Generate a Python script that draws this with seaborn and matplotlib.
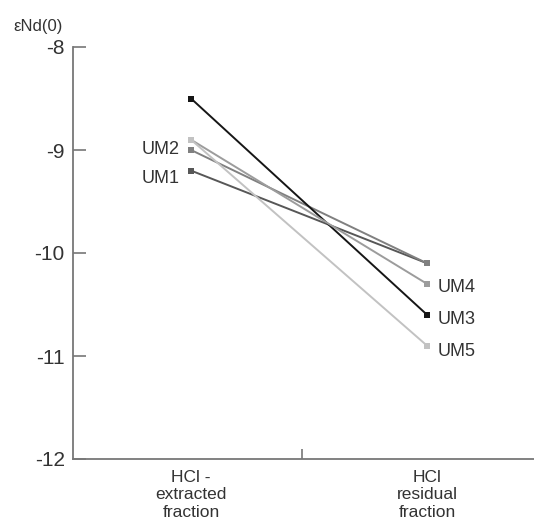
import matplotlib
matplotlib.use("Agg")
import matplotlib.pyplot as plt
import seaborn as sns
import pandas as pd

# ---- data ----
samples = ["UM1", "UM2", "UM3", "UM4", "UM5"]
fractions = ["HCl -\nextracted\nfraction", "HCl\nresidual\nfraction"]
extracted = [-9.2, -9.0, -8.5, -8.9, -8.9]
residual = [-10.1, -10.1, -10.6, -10.3, -10.9]
colors = ["#575757", "#808080", "#161616", "#9c9c9c", "#c2c2c2"]
y_ticks = [-8, -9, -10, -11, -12]
y_label = "εNd(0)"
left_labels = ["UM2", "UM1"]
right_labels = ["UM4", "UM3", "UM5"]

rows = []
for s, a, b in zip(samples, extracted, residual):
    rows.append({"sample": s, "pos": 0, "val": a})
    rows.append({"sample": s, "pos": 1, "val": b})
df = pd.DataFrame(rows)

sns.set_style("white")
plt.rcParams["font.family"] = ["Liberation Sans", "DejaVu Sans"]

W, H = 534, 522
fig = plt.figure(figsize=(W / 100, H / 100), dpi=100)
ax = fig.add_axes([73 / W, 1 - 459 / H, (534 - 73) / W, (459 - 47) / H])

sns.lineplot(data=df, x="pos", y="val", hue="sample", palette=dict(zip(samples, colors)),
             marker="s", markersize=5, markeredgewidth=0, linewidth=1.4,
             legend=False, ax=ax, sort=False)

ax.set_xlim(-0.5, 1.453)
ax.set_ylim(-12, -8)
ax.set_yticks(y_ticks)
ax.set_yticklabels([str(t) for t in y_ticks])
ax.set_xticks([0.47])
ax.set_xticklabels([""])
ax.set_xlabel("")
ax.set_ylabel("")

for sp in ["top", "right"]:
    ax.spines[sp].set_visible(False)
for sp in ["left", "bottom"]:
    ax.spines[sp].set_color("#777777")
    ax.spines[sp].set_linewidth(1.3)

ax.tick_params(axis="y", direction="in", length=9, width=1.2, color="#777777",
               labelsize=15, labelcolor="#333333", pad=6, left=True)
ax.tick_params(axis="x", direction="in", length=7, width=1.2, color="#777777", bottom=True)

for i, f in enumerate(fractions):
    ax.annotate(f, (i, -12), xytext=(0, -11), textcoords="offset pixels",
                ha="center", va="top", fontsize=12.5, color="#333333", linespacing=1.2)

fig.text(13 / W, 1 - 26 / H, y_label, ha="left", va="center", fontsize=12, color="#333333")

val_map = dict(zip(samples, zip(extracted, residual)))
left_offsets = {"UM2": 0, "UM1": -8}
for s in left_labels:
    ax.annotate(s, (0, val_map[s][0]), xytext=(-11, left_offsets[s]), textcoords="offset pixels",
                ha="right", va="center", fontsize=13, color="#333333")
right_offsets = {"UM4": -4, "UM3": -5, "UM5": -6}
for s in right_labels:
    ax.annotate(s, (1, val_map[s][1]), xytext=(11, right_offsets[s]), textcoords="offset pixels",
                ha="left", va="center", fontsize=13, color="#333333")

fig.savefig("out.png", dpi=100)
